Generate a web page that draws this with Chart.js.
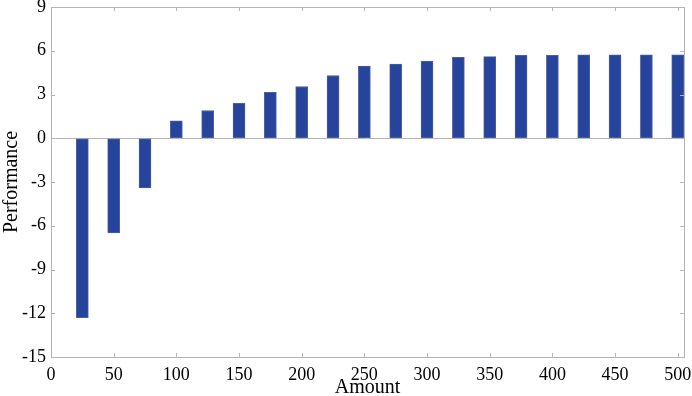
<!DOCTYPE html>
<html>
<head>
<meta charset="utf-8">
<script src="https://cdn.jsdelivr.net/npm/chart.js@4.4.1/dist/chart.umd.min.js"></script>
<style>
  html, body { margin: 0; padding: 0; background: #fff; }
  #wrap { width: 692px; height: 396px; }
</style>
</head>
<body>
<div id="wrap"><canvas id="perfChart"></canvas></div>
<script>
// Data
const amounts = [25, 50, 75, 100, 125, 150, 175, 200, 225, 250, 275, 300, 325, 350, 375, 400, 425, 450, 475, 500];
const performance = [-12.3, -6.5, -3.4, 1.2, 1.9, 2.4, 3.15, 3.55, 4.3, 4.95, 5.08, 5.3, 5.55, 5.6, 5.68, 5.68, 5.72, 5.72, 5.72, 5.72];
const xTicks = [0, 50, 100, 150, 200, 250, 300, 350, 400, 450, 500];
const yTicks = [-15, -12, -9, -6, -3, 0, 3, 6, 9];

const axisGray = "#b4b4b4";
const serif = "'Liberation Serif', 'Times New Roman', serif";

// box around plot + small inward ticks on all four sides
const boxTicks = {
  id: "boxTicks",
  afterDraw(chart) {
    const { ctx, chartArea: a, scales } = chart;
    const len = 4;
    ctx.save();
    ctx.strokeStyle = axisGray;
    ctx.lineWidth = 1;
    ctx.strokeRect(a.left + 0.5, a.top + 0.5, a.right - a.left, a.bottom - a.top);
    ctx.beginPath();
    xTicks.forEach((v) => {
      const px = Math.round(scales.x.getPixelForValue(v)) + 0.5;
      ctx.moveTo(px, a.bottom); ctx.lineTo(px, a.bottom - len);
      ctx.moveTo(px, a.top); ctx.lineTo(px, a.top + len);
    });
    yTicks.forEach((v) => {
      const py = Math.round(scales.y.getPixelForValue(v)) + 0.5;
      ctx.moveTo(a.left, py); ctx.lineTo(a.left + len, py);
      ctx.moveTo(a.right, py); ctx.lineTo(a.right - len, py);
    });
    ctx.stroke();
    ctx.restore();
  },
};

new Chart(document.getElementById("perfChart"), {
  type: "bar",
  data: {
    datasets: [
      {
        data: amounts.map((a, i) => ({ x: a, y: performance[i] })),
        backgroundColor: "#26449b",
        borderColor: "#4a5f9e",
        borderWidth: 1,
        borderSkipped: false,
        barThickness: 12,
      },
    ],
  },
  options: {
    responsive: true,
    maintainAspectRatio: false,
    animation: false,
    layout: { padding: { top: 7, right: 8, left: 0, bottom: 0 } },
    plugins: { legend: { display: false }, tooltip: { enabled: false } },
    scales: {
      x: {
        type: "linear",
        offset: false,
        min: 0,
        max: 505,
        afterBuildTicks: (s) => { s.ticks = xTicks.map((v) => ({ value: v })); },
        afterFit: (s) => { s.height = 39; s.paddingLeft = 0; s.paddingRight = 0; },
        grid: { display: false, drawTicks: false, offset: false },
        border: { display: false },
        ticks: { color: "#000", padding: 7, maxRotation: 0, autoSkip: false, font: { family: serif, size: 18 } },
        title: { display: true, text: "Amount", color: "#000", padding: 0, font: { family: serif, size: 20, lineHeight: 0.8 } },
      },
      y: {
        min: -15,
        max: 9,
        afterBuildTicks: (s) => { s.ticks = yTicks.map((v) => ({ value: v })); },
        afterFit: (s) => { s.width = 51; s.paddingTop = 0; s.paddingBottom = 0; },
        grid: {
          drawTicks: false,
          color: (c) => (c.tick && c.tick.value === 0 ? axisGray : "transparent"),
        },
        border: { display: false },
        ticks: { color: "#000", padding: 5, font: { family: serif, size: 18 } },
        title: { display: true, text: "Performance", color: "#000", padding: 0, font: { family: serif, size: 20 } },
      },
    },
  },
  plugins: [boxTicks],
});
</script>
</body>
</html>
